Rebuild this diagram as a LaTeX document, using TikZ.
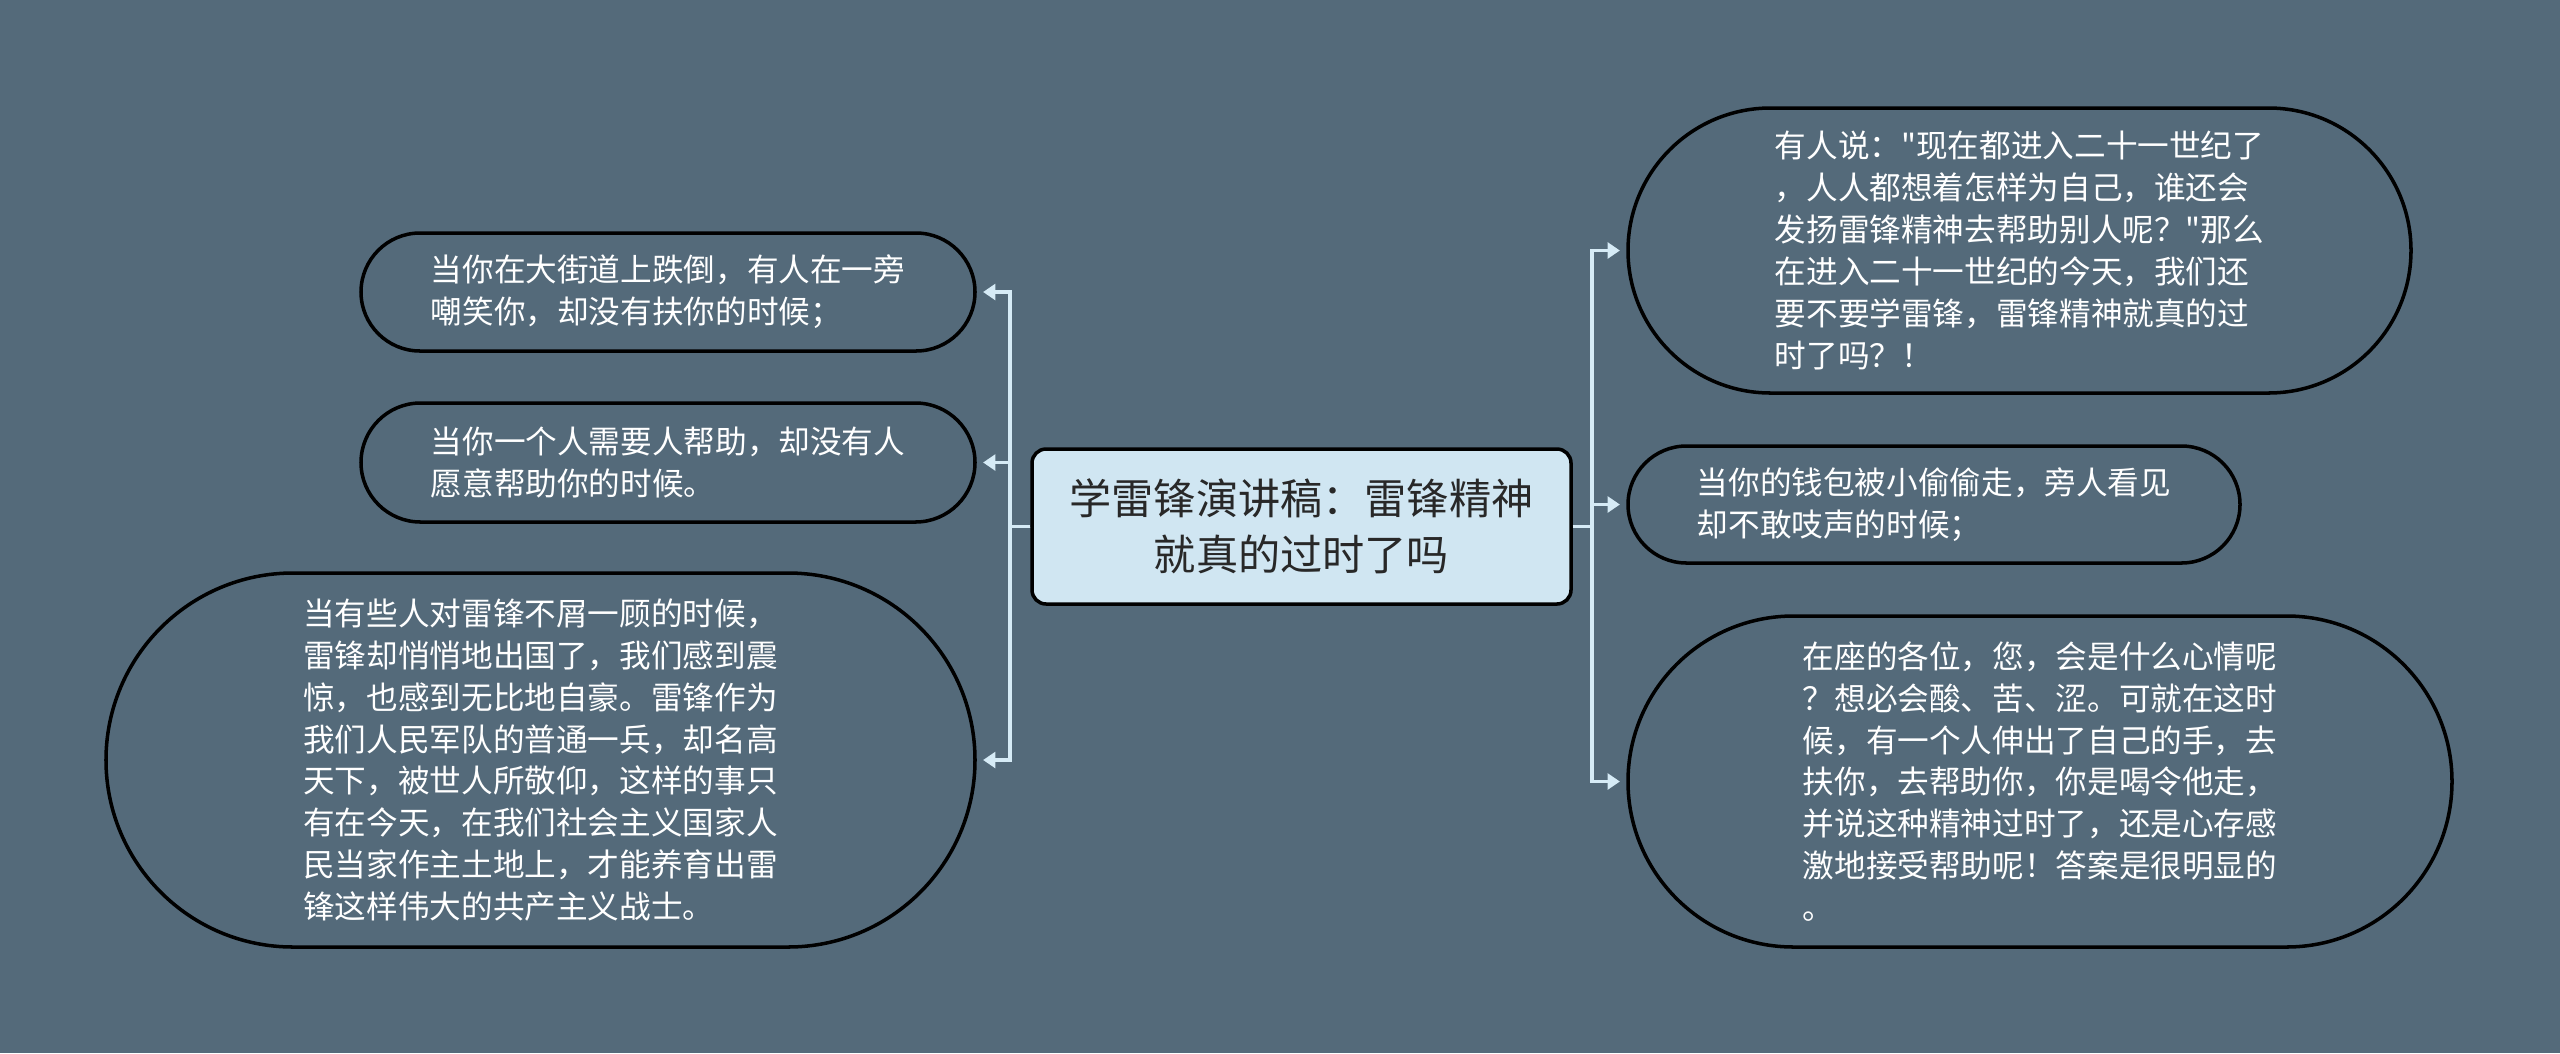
\documentclass[tikz,border=0pt]{standalone}
\usepackage{fontspec}
\newfontfamily\cjk{Noto Sans CJK SC}
\usetikzlibrary{arrows.meta, shapes.misc}
\definecolor{bgslate}{RGB}{84,106,122}
\definecolor{paleblue}{RGB}{208,230,242}
\definecolor{linkblue}{RGB}{214,235,246}
\definecolor{inkgrey}{RGB}{40,40,40}

\begin{document}
\begin{tikzpicture}[
  leaf/.style={rounded rectangle, draw=black, line width=1pt, text=white, font=\cjk\fontsize{9}{11.9}\selectfont, align=left, inner sep=0pt},
  link/.style={linkblue, line width=1.1pt, -{Triangle[length=3.5pt,width=4.5pt]}, shorten >=1.8pt}
]
  \fill[bgslate] (0,0) rectangle (25.6,-10.53);
  \useasboundingbox (0,0) rectangle (25.6,-10.53);
  % centre topic
  \node[draw=black, line width=1pt, fill=paleblue, rounded corners=4pt, minimum width=5.39cm, minimum height=1.55cm, text=inkgrey, font=\cjk\fontsize{12}{15.8}\selectfont, align=center] (title) at (13.015,-5.265) {学雷锋演讲稿：雷锋精神\\就真的过时了吗};
  % left side
  \node[leaf, minimum width=6.14cm, minimum height=1.18cm] (l1) at (6.68,-2.92) {当你在大街道上跌倒，有人在一旁\\嘲笑你，却没有扶你的时候；};
  \node[leaf, minimum width=6.14cm, minimum height=1.19cm] (l2) at (6.68,-4.625) {当你一个人需要人帮助，却没有人\\愿意帮助你的时候。};
  \node[leaf, minimum width=8.69cm, minimum height=3.74cm] (l3) at (5.405,-7.60) {当有些人对雷锋不屑一顾的时候，\\雷锋却悄悄地出国了，我们感到震\\惊，也感到无比地自豪。雷锋作为\\我们人民军队的普通一兵，却名高\\天下，被世人所敬仰，这样的事只\\有在今天，在我们社会主义国家人\\民当家作主土地上，才能养育出雷\\锋这样伟大的共产主义战士。};
  % right side
  \node[leaf, minimum width=7.83cm, minimum height=2.85cm] (r1) at (20.195,-2.505) {有人说："现在都进入二十一世纪了\\，人人都想着怎样为自己，谁还会\\发扬雷锋精神去帮助别人呢？"那么\\在进入二十一世纪的今天，我们还\\要不要学雷锋，雷锋精神就真的过\\时了吗？！};
  \node[leaf, minimum width=6.12cm, minimum height=1.17cm] (r2) at (19.34,-5.045) {当你的钱包被小偷偷走，旁人看见\\却不敢吱声的时候；};
  \node[leaf, minimum width=8.24cm, minimum height=3.31cm] (r3) at (20.40,-7.815) {在座的各位，您，会是什么心情呢\\？想必会酸、苦、涩。可就在这时\\候，有一个人伸出了自己的手，去\\扶你，去帮助你，你是喝令他走，\\并说这种精神过时了，还是心存感\\激地接受帮助呢！答案是很明显的\\。};
  % connectors
  \foreach \n in {l1,l2,l3}
    \draw[link] (title.west) -- ++(-0.2,0) |- (\n.east);
  \foreach \n in {r1,r2,r3}
    \draw[link] (title.east) -- ++(0.19,0) |- (\n.west);
\end{tikzpicture}
\end{document}
